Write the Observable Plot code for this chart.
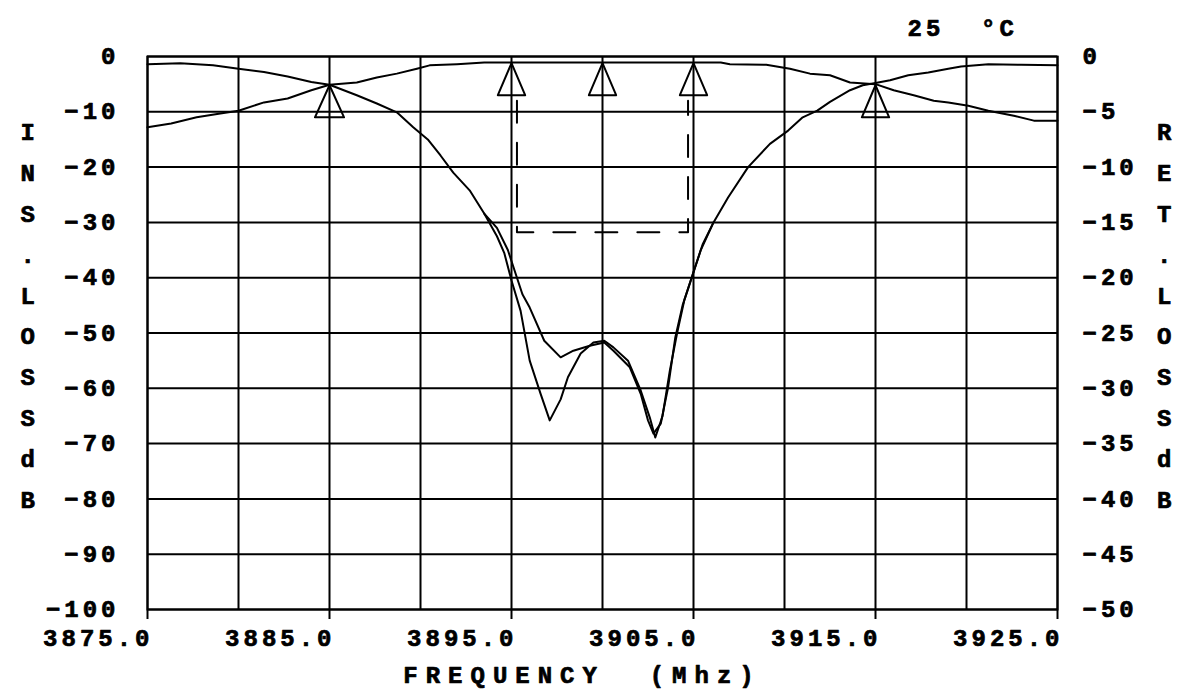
<!DOCTYPE html>
<html><head><meta charset="utf-8">
<script src="https://cdn.jsdelivr.net/npm/d3@7"></script>
<script src="https://cdn.jsdelivr.net/npm/@observablehq/plot@0.6"></script>
<style>
html,body{margin:0;padding:0;background:#fff;}
#chart svg{display:block;background:#fff;}
#chart svg text{font-family:"Liberation Mono",monospace;font-weight:bold;letter-spacing:4px;}
#chart svg g.xtitle text{letter-spacing:8px;}
</style></head><body><div id="chart"></div>
<script>
// ---- data ----
const freqTicks = [3875, 3885, 3895, 3905, 3915, 3925];
const gridFreqs = [3875, 3880, 3885, 3890, 3895, 3900, 3905, 3910, 3915, 3920, 3925];
const insLossTicks = [0, -10, -20, -30, -40, -50, -60, -70, -80, -90, -100];
const retLossTicks = [0, -5, -10, -15, -20, -25, -30, -35, -40, -45, -50];
const temperatureLabel = "25  °C";
const xTitle = "FREQUENCY  (Mhz)";
const leftTitle = "INS.LOSSdB";
const rightTitle = "RET.LOSSdB";

// insertion-loss trace (left scale, dB)
const insFreq = [3875, 3876.3, 3877.7, 3879, 3880, 3881.4, 3882.7, 3884, 3885, 3886.5, 3887.6, 3888.7, 3889.8, 3890.5, 3892, 3893.5, 3900, 3906.5, 3907, 3909, 3910.3, 3911.4, 3912.5, 3913.6, 3915, 3916, 3917.1, 3918.2, 3919, 3920.1, 3921.2, 3922.6, 3923.7, 3925];
const insLoss = [-12.8, -12.1, -11, -10.3, -9.8, -8.3, -7.6, -6.1, -5.1, -4.7, -3.8, -3.1, -2.2, -1.6, -1.4, -1.1, -1.1, -1.1, -1.4, -1.5, -2.2, -3.1, -3.4, -4.7, -5, -6.1, -7, -8, -8.3, -8.9, -9.8, -10.7, -11.6, -11.6];

// return-loss trace A (deep first notch)
const retAFreq = [3875, 3876.8, 3878.6, 3880, 3881.4, 3882.7, 3884, 3885, 3886.5, 3887.6, 3888.7, 3889.6, 3890.4, 3891.1, 3891.8, 3892.7, 3893.5, 3894.2, 3894.6, 3895, 3895.5, 3896, 3896.6, 3897.1, 3897.7, 3898.1, 3898.8, 3899.5, 3900.1, 3900.6, 3901.4, 3902.1, 3902.6, 3902.9, 3903.3, 3903.7, 3904.1, 3904.5, 3905, 3905.5, 3906.1, 3906.9, 3908, 3909.2, 3910.2, 3911, 3911.8, 3912.5, 3913.6, 3914.3, 3915, 3915.8, 3916.8, 3917.9, 3919, 3919.7, 3921.2, 3923, 3925];
const retA = [-1.4, -1.2, -1.6, -2.2, -2.8, -3.6, -4.6, -5.1, -7, -8.5, -10.1, -12.8, -15, -17.9, -21, -24.2, -28.4, -32.5, -35.5, -40.5, -46, -55, -61, -65.8, -62, -58, -53.7, -51.7, -51.4, -52.6, -55, -60.4, -65.3, -68.9, -65, -56.8, -50, -44, -39, -34, -30, -25.5, -20, -15.8, -13.4, -11, -9.8, -8.2, -6.1, -5.2, -4.8, -4.3, -3.4, -2.9, -2.2, -1.8, -1.4, -1.5, -1.6];

// return-loss trace B (shallow first notch)
const retBFreq = [3893.5, 3894.2, 3894.8, 3895.3, 3895.6, 3896, 3896.8, 3897.7, 3898.4, 3899.3, 3900.1, 3900.6, 3901.5, 3902.1, 3902.5, 3902.8, 3903.2, 3903.6, 3904, 3904.4, 3904.9, 3905.4, 3906.1];
const retB = [-28.4, -31, -35, -40, -43, -45.4, -51.4, -54.4, -53.2, -52.3, -51.7, -53.2, -56.2, -61, -65.8, -68.2, -66.4, -59.9, -50.8, -45, -40, -35, -30];

// markers (triangles)
const markerFreq = [3885, 3895, 3900, 3905, 3915];
const markerTip = [-5.2, -1.2, -1.2, -1.2, -5.2];
const markerBase = [-11, -7, -7, -7, -11];
const markerHalfWidth = [0.8, 0.75, 0.75, 0.75, 0.75];

// dashed passband spec
const bandEdges = [3895.3, 3904.7];
const bandTop = -8;
const bandFloor = -31.8;

// ---- build tables ----
const insRows = insFreq.map((f, i) => ({f, v: insLoss[i]}));
const retARows = retAFreq.map((f, i) => ({f, v: retA[i]}));
const retBRows = retBFreq.map((f, i) => ({f, v: retB[i]}));
const markerRows = markerFreq.flatMap((f, i) => [
  {id: i, f: f - markerHalfWidth[i], v: markerBase[i]},
  {id: i, f: f, v: markerTip[i]},
  {id: i, f: f + markerHalfWidth[i], v: markerBase[i]},
  {id: i, f: f - markerHalfWidth[i], v: markerBase[i]}
]);
const bandRows = [
  {f: bandEdges[0], v: bandTop}, {f: bandEdges[0], v: bandFloor},
  {f: bandEdges[1], v: bandFloor}, {f: bandEdges[1], v: bandTop}
];
const fmtMinus = d => (d < 0 ? "\u2212" + Math.abs(d) : String(d));

const font = {fontSize: 24, fill: "black", stroke: "black", strokeWidth: 0.7};

const chart = Plot.plot({
  width: 1187,
  height: 696,
  marginLeft: 147,
  marginRight: 130,
  marginTop: 56,
  marginBottom: 87,
  x: {domain: [3875, 3925], axis: null, label: null},
  y: {domain: [-100, 0], axis: null, label: null},
  marks: [
    Plot.ruleX(gridFreqs, {stroke: "black", strokeWidth: 2}),
    Plot.ruleY(insLossTicks, {stroke: "black", strokeWidth: 2}),
    Plot.frame({stroke: "black", strokeWidth: 2}),
    Plot.axisX({ticks: freqTicks, tickSize: 10, tickFormat: () => "", label: null, stroke: "black", strokeWidth: 2}),
    Plot.line(insRows, {x: "f", y: "v", stroke: "black", strokeWidth: 2}),
    Plot.line(retARows, {x: "f", y: "v", stroke: "black", strokeWidth: 2}),
    Plot.line(retBRows, {x: "f", y: "v", stroke: "black", strokeWidth: 2}),
    Plot.line(markerRows, {x: "f", y: "v", z: "id", stroke: "black", strokeWidth: 2}),
    Plot.line(bandRows, {x: "f", y: "v", stroke: "black", strokeWidth: 2, strokeDasharray: "22,20"}),
    // left tick labels
    Plot.text(insLossTicks, {y: d => d, text: fmtMinus, frameAnchor: "left", textAnchor: "end", dx: -28, ...font}),
    // right tick labels
    Plot.text(insLossTicks, {y: d => d, text: (d, i) => fmtMinus(retLossTicks[i]), frameAnchor: "right", textAnchor: "start", dx: 25, ...font}),
    // x tick labels
    Plot.text(freqTicks, {x: d => d, text: d => d.toFixed(1), frameAnchor: "bottom", textAnchor: "end", dx: 6, dy: 36, ...font}),
    // x title
    Plot.text([xTitle], {frameAnchor: "bottom", dx: -20, dy: 73, className: "xtitle", ...font}),
    // temperature
    Plot.text([temperatureLabel], {frameAnchor: "top-right", textAnchor: "start", dx: -150, dy: -38, ...font}),
    // vertical axis titles
    Plot.text([leftTitle.split("").join("\n")], {frameAnchor: "left", dx: -127, dy: -22, lineHeight: 1.7, ...font}),
    Plot.text([rightTitle.split("").join("\n")], {frameAnchor: "right", dx: 118, dy: -22, lineHeight: 1.7, ...font})
  ]
});
document.getElementById("chart").appendChild(chart);
</script>
</body></html>
